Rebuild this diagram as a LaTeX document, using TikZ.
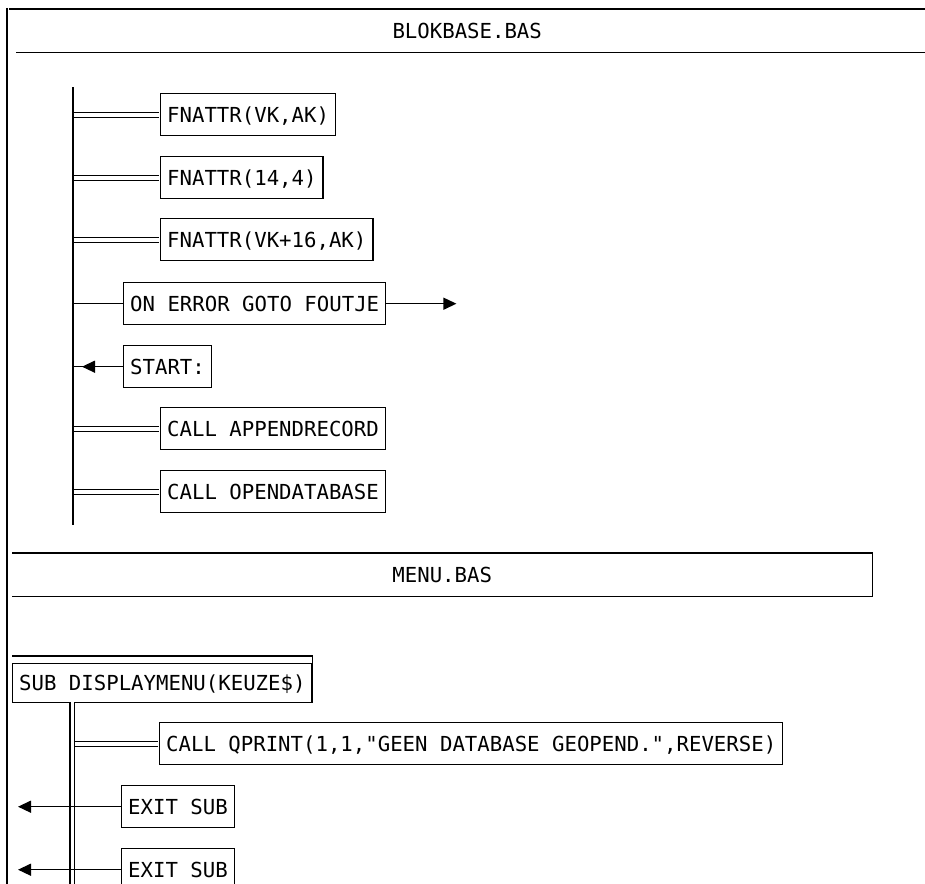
\documentclass[tikz,border=0pt]{standalone}
\usepackage{fontspec}
\newfontfamily\plotfont{DejaVu Sans Mono}
\usetikzlibrary{arrows.meta,calc}
\newcommand{\plotsize}{\plotfont\fontsize{20.68pt}{24pt}\selectfont}
\tikzset{
  lw/.style={line width=1.4pt},
  codebox/.style={draw, line width=1.4pt, anchor=north west, inner xsep=6.5pt, inner ysep=0pt,
    minimum height=42pt, text height=15.1pt, text depth=0pt, font=\plotsize},
  titleband/.style={anchor=north west, inner sep=0pt, minimum height=43pt,
    text height=15.1pt, text depth=0pt, font=\plotsize},
  dbl/.style={double, double distance=4pt, line width=1.1pt, shorten <=0.8pt, shorten >=0.8pt},
  arr/.style={-{Triangle[length=13pt,width=12pt]}, line width=1.4pt},
}
\begin{document}
\begin{tikzpicture}[x=1pt,y=-1pt]
\useasboundingbox (0,0) rectangle (925,883);
\fill[white] (0,0) rectangle (925,883);
\clip (0,0) rectangle (925,883);

% left border and top band
\draw[line width=2.6pt] (7,8) -- (7,890);
\node[titleband, minimum width=916pt] (blok) at (9,9) {BLOKBASE.BAS};
\draw[lw] (blok.north west) -- (blok.north east);
\draw[lw] ($(blok.south west)+(7,0)$) -- (blok.south east);

% spine of BLOKBASE
\coordinate (spinetop) at (73,87);
\coordinate (spinebot) at (73,525);
\draw[line width=1.1pt] (spinetop) -- (spinebot);

\node[codebox] (b1) at (160,93)  {FNATTR(VK,AK)};
\node[codebox] (b2) at (160,156) {FNATTR(14,4)};
\node[codebox] (b3) at (160,218) {FNATTR(VK+16,AK)};
\node[codebox] (b4) at (123,282) {ON ERROR GOTO FOUTJE};
\node[codebox] (b5) at (123,345) {START:};
\node[codebox] (b6) at (160,407) {CALL APPENDRECORD};
\node[codebox] (b7) at (160,470) {CALL OPENDATABASE};

\draw[dbl] (b1.west -| spinetop) -- (b1.west);
\draw[dbl] (b2.west -| spinetop) -- (b2.west);
\draw[dbl] (b3.west -| spinetop) -- (b3.west);
\draw[lw] (b4.west -| spinetop) -- (b4.west);
\coordinate (errend) at ($(b4.east)+(70,0)$);
\draw[arr] (b4.east) -- (errend);
\draw[lw] (b5.west) -- (b5.west -| spinetop);
\draw[arr] (b5.west) -- ($(b5.west -| spinetop)+(9,0)$);
\draw[dbl] (b6.west -| spinetop) -- (b6.west);
\draw[dbl] (b7.west -| spinetop) -- (b7.west);

% MENU.BAS band
\node[titleband, minimum width=860pt] (menu) at (12,553) {MENU.BAS};
\draw[lw] (menu.north west) -- (menu.north east) -- (menu.south east) -- (menu.south west);

% SUB DISPLAYMENU
\node[codebox, minimum height=39pt] (sub) at (12,663) {SUB DISPLAYMENU(KEUZE\$)};
\draw[lw] ($(sub.north west)+(0,-7)$) -- ($(sub.north east)+(0,-7)$) -- (sub.north east);

\coordinate (v2top) at (72,702);
\coordinate (v2bot) at (72,895);
\draw[double, double distance=3pt, line width=1.1pt] (v2top) -- (v2bot);
\coordinate (v2right) at (74,702);

\node[codebox] (q)  at (159,722) {CALL QPRINT(1,1,"GEEN DATABASE GEOPEND.",REVERSE)};
\node[codebox] (e1) at (121,785) {EXIT SUB};
\node[codebox] (e2) at (121,848) {EXIT SUB};

\draw[dbl] (q.west -| v2right) -- (q.west);
\coordinate (exitend) at (18,800);
\draw[arr] (e1.west) -- (e1.west -| exitend);
\draw[arr] (e2.west) -- (e2.west -| exitend);
\end{tikzpicture}
\end{document}
